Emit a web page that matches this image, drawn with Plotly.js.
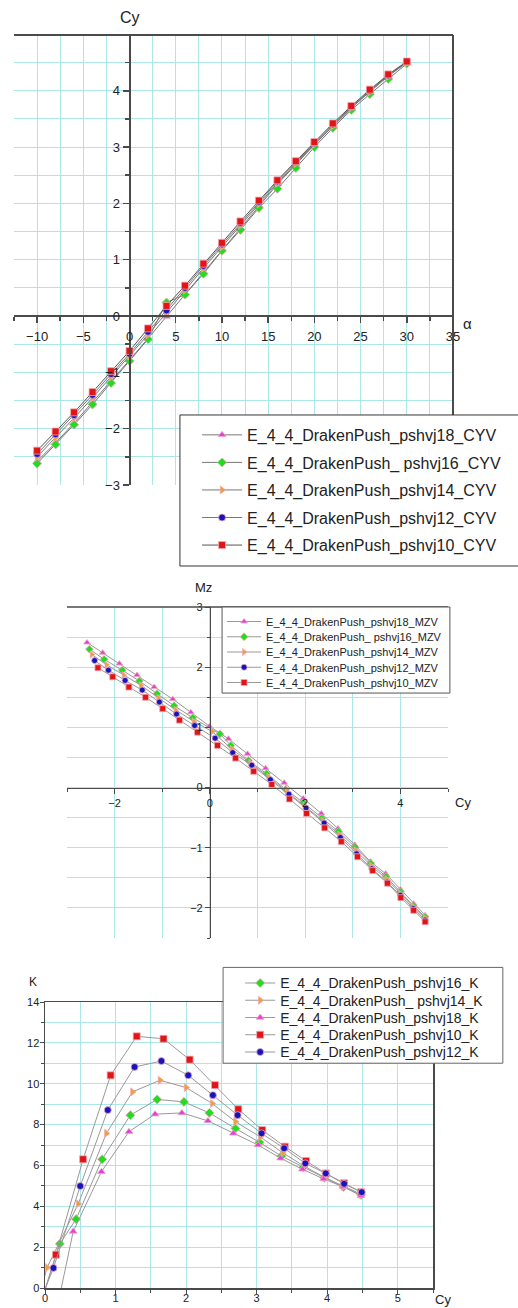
<!DOCTYPE html>
<html>
<head>
<meta charset="utf-8">
<script src="https://cdn.plot.ly/plotly-3.0.1.min.js"></script>
<style>
html,body{margin:0;padding:0;background:#fff;width:518px;height:1308px;overflow:hidden;}
.ch{position:absolute;left:0;width:518px;}
#c1{top:0;height:580px;}
#c2{top:580px;height:370px;}
#c3{top:950px;height:358px;}
</style>
</head>
<body>
<div id="c1" class="ch"></div>
<div id="c2" class="ch"></div>
<div id="c3" class="ch"></div>
<script>
// ---------- Chart 1: Cy vs alpha ----------
const alpha = [-10,-8,-6,-4,-2,0,2,4,6,8,10,12,14,16,18,20,22,24,26,28,30];
const cyv18 = [-2.58,-2.25,-1.90,-1.53,-1.17,-0.78,-0.40,-0.01,0.39,0.79,1.17,1.56,1.96,2.34,2.69,3.04,3.37,3.69,4.00,4.28,4.50];
const cyv16 = [-2.62,-2.28,-1.93,-1.57,-1.19,-0.80,-0.41,0.24,0.38,0.75,1.16,1.53,1.92,2.26,2.63,3.00,3.34,3.66,3.94,4.21,4.48];
const cyv14 = [-2.50,-2.16,-1.81,-1.45,-1.08,-0.71,-0.33,0.06,0.46,0.85,1.23,1.61,1.99,2.36,2.71,3.05,3.38,3.70,3.98,4.26,4.50];
const cyv12 = [-2.45,-2.10,-1.76,-1.40,-1.03,-0.67,-0.28,0.10,0.50,0.89,1.27,1.65,2.02,2.39,2.73,3.07,3.40,3.71,4.00,4.27,4.51];
const cyv10 = [-2.39,-2.05,-1.71,-1.35,-0.98,-0.62,-0.22,0.18,0.54,0.93,1.30,1.68,2.05,2.41,2.75,3.09,3.42,3.73,4.02,4.29,4.52];
const cyvNames = ["E_4_4_DrakenPush_pshvj18_CYV","E_4_4_DrakenPush_ pshvj16_CYV","E_4_4_DrakenPush_pshvj14_CYV","E_4_4_DrakenPush_pshvj12_CYV","E_4_4_DrakenPush_pshvj10_CYV"];

// ---------- Chart 2: Mz vs Cy ----------
const mzCy18 = [-2.58,-2.25,-1.90,-1.53,-1.17,-0.78,-0.40,-0.01,0.39,0.79,1.17,1.56,1.96,2.34,2.69,3.04,3.37,3.69,4.00,4.28,4.52];
const mz18   = [2.41,2.24,2.06,1.87,1.67,1.47,1.25,1.02,0.81,0.56,0.32,0.08,-0.18,-0.43,-0.68,-0.95,-1.23,-1.43,-1.69,-1.93,-2.12];
const mzCy16 = [-2.53,-2.22,-1.84,-1.48,-1.11,-0.75,-0.36,0.21,0.44,0.81,1.19,1.59,1.96,2.35,2.70,3.05,3.38,3.70,4.00,4.27,4.52];
const mz16   = [2.30,2.13,1.95,1.77,1.56,1.36,1.16,0.89,0.70,0.45,0.23,-0.03,-0.25,-0.51,-0.73,-0.99,-1.26,-1.48,-1.73,-1.96,-2.15];
const mzCy14 = [-2.48,-2.17,-1.81,-1.45,-1.08,-0.72,-0.34,0.05,0.46,0.85,1.23,1.62,1.99,2.37,2.72,3.06,3.39,3.71,4.00,4.27,4.52];
const mz14   = [2.21,2.04,1.87,1.70,1.49,1.29,1.10,0.93,0.64,0.41,0.18,-0.07,-0.30,-0.55,-0.78,-1.04,-1.30,-1.52,-1.76,-1.98,-2.17];
const mzCy12 = [-2.42,-2.13,-1.78,-1.42,-1.06,-0.70,-0.32,0.11,0.48,0.88,1.27,1.66,2.02,2.40,2.74,3.08,3.40,3.72,4.00,4.27,4.52];
const mz12   = [2.11,1.95,1.78,1.62,1.42,1.22,1.03,0.82,0.58,0.37,0.13,-0.11,-0.34,-0.59,-0.83,-1.10,-1.35,-1.57,-1.79,-2.01,-2.20];
const mzCy10 = [-2.35,-2.04,-1.70,-1.35,-0.99,-0.64,-0.26,0.16,0.54,0.92,1.30,1.67,2.03,2.41,2.76,3.10,3.42,3.73,4.01,4.28,4.52];
const mz10   = [1.99,1.84,1.67,1.50,1.31,1.12,0.92,0.70,0.49,0.27,0.05,-0.19,-0.43,-0.67,-0.90,-1.15,-1.38,-1.59,-1.83,-2.04,-2.23];
const mzvNames = ["E_4_4_DrakenPush_pshvj18_MZV","E_4_4_DrakenPush_ pshvj16_MZV","E_4_4_DrakenPush_pshvj14_MZV","E_4_4_DrakenPush_pshvj12_MZV","E_4_4_DrakenPush_pshvj10_MZV"];

// ---------- Chart 3: K vs Cy ----------
const kCy16 = [-0.36,0.21,0.44,0.81,1.21,1.59,1.97,2.33,2.70,3.04,3.35,3.66,3.96,4.23,4.48];
const k16   = [-4.0,2.16,3.37,6.30,8.46,9.23,9.11,8.57,7.81,7.13,6.46,5.91,5.40,4.95,4.56];
const kCy14 = [-0.34,0.03,0.47,0.87,1.24,1.63,2.00,2.37,2.70,3.05,3.37,3.67,3.96,4.23,4.48];
const k14   = [-3.5,1.00,4.12,7.57,9.60,10.17,9.81,9.03,8.14,7.40,6.62,5.97,5.42,4.97,4.59];
const kCy18 = [0.17,0.40,0.80,1.19,1.56,1.94,2.31,2.67,3.02,3.34,3.65,3.95,4.23,4.48];
const k18   = [-1.0,2.77,5.69,7.65,8.51,8.57,8.18,7.57,7.00,6.35,5.81,5.34,4.95,4.51];
const kCy10 = [-0.22,0.155,0.54,0.93,1.30,1.68,2.05,2.41,2.74,3.08,3.40,3.70,3.98,4.24,4.48];
const k10   = [-2.5,1.63,6.30,10.41,12.32,12.20,11.18,9.93,8.75,7.73,6.92,6.22,5.61,5.13,4.69];
const kCy12 = [-0.30,0.12,0.50,0.89,1.27,1.65,2.03,2.38,2.73,3.07,3.39,3.69,3.98,4.24,4.49];
const k12   = [-2.6,0.98,4.99,8.71,10.82,11.11,10.41,9.44,8.46,7.57,6.84,6.10,5.61,5.10,4.69];
const kNames = ["E_4_4_DrakenPush_pshvj16_K","E_4_4_DrakenPush_ pshvj14_K","E_4_4_DrakenPush_pshvj18_K","E_4_4_DrakenPush_pshvj10_K","E_4_4_DrakenPush_pshvj12_K"];

// ---------- styles ----------
const FONT = "Liberation Sans, Arial, sans-serif";
const GRID = "rgb(172,231,231)";
const AX = "#4a4a4a";
const sty = {
  p18: {color:"#e040e0", symbol:"triangle-up"},
  p16: {color:"#20dd20", symbol:"diamond"},
  p14: {color:"#f0a030", symbol:"triangle-right"},
  p12: {color:"#1515c0", symbol:"circle"},
  p10: {color:"#e01515", symbol:"square"}
};
function tr(x, y, name, s, size, lineColor, grp){
  return {x:x, y:y, name:name, type:"scatter", mode:"lines+markers", legendgroup:grp,
    line:{color:lineColor, width:1},
    marker:{color:s.color, symbol:s.symbol, size:size, line:{color:"#f3a8b8", width:0.8}}};
}
function boxShape(x0, x1, y0, y1, col){
  return {type:"rect", xref:"paper", yref:"paper", x0:x0, x1:x1, y0:y0, y1:y1,
    layer:"above", fillcolor:"#fff", line:{color:col, width:1}};
}
// re-space legend rows to a given pitch (px)
function spaceLegend(id, step){
  const gd = document.getElementById(id);
  const items = gd.querySelectorAll("g.legend g.traces");
  let y0 = null;
  items.forEach(function(g, i){
    const m = /translate\(\s*([-\d.e]+)[ ,]+([-\d.e]+)\s*\)/.exec(g.getAttribute("transform") || "");
    if(!m) return;
    if(y0 === null) y0 = parseFloat(m[2]);
    g.setAttribute("transform", "translate(" + m[1] + "," + (y0 + i*step) + ")");
  });
}
const cfg = {staticPlot:true, displayModeBar:false};

// Chart 1
const t1 = [
  tr(alpha, cyv18, cyvNames[0], sty.p18, 7, "#777", "a"),
  tr(alpha, cyv16, cyvNames[1], sty.p16, 7, "#777", "b"),
  tr(alpha, cyv14, cyvNames[2], sty.p14, 7, "#777", "c"),
  tr(alpha, cyv12, cyvNames[3], sty.p12, 7, "#777", "d"),
  tr(alpha, cyv10, cyvNames[4], sty.p10, 7, "#555", "e")
];
const x1r = [-12.5, 35], y1r = [-3, 4.99];
const l1 = {
  width:518, height:580, margin:{l:14, r:65, t:35, b:95},
  paper_bgcolor:"rgba(0,0,0,0)", plot_bgcolor:"#fff",
  font:{family:FONT, color:"#222"},
  showlegend:true,
  xaxis:{range:x1r, anchor:"free", position:(0 - y1r[0])/(y1r[1]-y1r[0]),
    showline:true, linecolor:AX, linewidth:2, zeroline:false,
    tick0:0, dtick:5, ticks:"outside", ticklen:6, tickcolor:AX, tickwidth:1.5,
    showgrid:true, gridcolor:GRID, gridwidth:1,
    minor:{dtick:2.5, showgrid:true, gridcolor:GRID, ticks:"outside", ticklen:4, tickcolor:AX},
    tickfont:{size:13}, ticklabelstandoff:2},
  yaxis:{range:y1r, anchor:"free", position:(0 - x1r[0])/(x1r[1]-x1r[0]),
    showline:true, linecolor:AX, linewidth:2, zeroline:false,
    tick0:0, dtick:1, ticks:"outside", ticklen:6, tickcolor:AX, tickwidth:1.5,
    showgrid:true, gridcolor:GRID, gridwidth:1,
    minor:{dtick:0.5, showgrid:true, gridcolor:GRID, ticks:"outside", ticklen:4, tickcolor:AX},
    tickfont:{size:13}},
  shapes:[
    {type:"line", xref:"paper", yref:"paper", x0:0, x1:1, y0:1, y1:1, line:{color:AX, width:2}},
    {type:"line", xref:"paper", yref:"paper", x0:1, x1:1, y0:0, y1:1, line:{color:AX, width:2}},
    boxShape(0.378, 1.16, -0.18, 0.1556, "#333")
  ],
  annotations:[
    {text:"Cy", xref:"paper", yref:"paper", x:(0 - x1r[0])/(x1r[1]-x1r[0]), y:1.038, showarrow:false, font:{size:16}, xanchor:"center", yanchor:"middle"},
    {text:"α", xref:"paper", yref:"paper", x:1.034, y:0.36, showarrow:false, font:{size:15}, xanchor:"center", yanchor:"middle"}
  ],
  legend:{x:0.417, y:0.149, xanchor:"left", yanchor:"top", bgcolor:"rgba(0,0,0,0)",
    borderwidth:0, font:{size:16, color:"#222"}, itemwidth:40, tracegroupgap:3.75}
};
Plotly.newPlot("c1", t1, l1, cfg);

// Chart 2
const t2 = [
  tr(mzCy18, mz18, mzvNames[0], sty.p18, 6, "#999"),
  tr(mzCy16, mz16, mzvNames[1], sty.p16, 6, "#999"),
  tr(mzCy14, mz14, mzvNames[2], sty.p14, 6, "#999"),
  tr(mzCy12, mz12, mzvNames[3], sty.p12, 6, "#999"),
  tr(mzCy10, mz10, mzvNames[4], sty.p10, 6, "#999")
];
const x2r = [-3, 5], y2r = [-2.5, 3];
const l2 = {
  width:518, height:370, margin:{l:67, r:70, t:27, b:12},
  paper_bgcolor:"rgba(0,0,0,0)", plot_bgcolor:"#fff",
  font:{family:FONT, color:"#222"},
  showlegend:true,
  xaxis:{range:x2r, anchor:"free", position:(0 - y2r[0])/(y2r[1]-y2r[0]),
    showline:true, linecolor:AX, linewidth:1.5, zeroline:false,
    tick0:0, dtick:2, ticks:"outside", ticklen:5, tickcolor:AX,
    showgrid:true, gridcolor:GRID,
    minor:{dtick:1, showgrid:true, gridcolor:GRID, ticks:"outside", ticklen:3, tickcolor:AX},
    tickfont:{size:11}},
  yaxis:{range:y2r, anchor:"free", position:(0 - x2r[0])/(x2r[1]-x2r[0]),
    showline:true, linecolor:AX, linewidth:1.5, zeroline:false,
    tick0:0, dtick:1, ticks:"outside", ticklen:5, tickcolor:AX,
    showgrid:true, gridcolor:GRID,
    minor:{dtick:0.5, showgrid:true, gridcolor:GRID, ticks:"outside", ticklen:3, tickcolor:AX},
    tickfont:{size:11}},
  shapes:[
    {type:"line", xref:"paper", yref:"paper", x0:0, x1:1, y0:1, y1:1, line:{color:AX, width:1.5}},
    boxShape(0.407, 1.005, 0.74, 1.0, "#555")
  ],
  annotations:[
    {text:"Mz", xref:"paper", yref:"paper", x:0.357, y:1.06, showarrow:false, font:{size:13}, xanchor:"center", yanchor:"middle"},
    {text:"Cy", xref:"paper", yref:"paper", x:1.039, y:0.408, showarrow:false, font:{size:13}, xanchor:"center", yanchor:"middle"}
  ],
  legend:{x:0.407, y:1.0, xanchor:"left", yanchor:"top", bgcolor:"rgba(0,0,0,0)",
    borderwidth:0, font:{size:11, color:"#222"}, itemwidth:34}
};
Plotly.newPlot("c2", t2, l2, cfg).then(function(){ spaceLegend("c2", 15.25); });

// Chart 3
const t3 = [
  tr(kCy16, k16, kNames[0], sty.p16, 7, "#999"),
  tr(kCy14, k14, kNames[1], sty.p14, 7, "#999"),
  tr(kCy18, k18, kNames[2], sty.p18, 7, "#999"),
  tr(kCy10, k10, kNames[3], sty.p10, 7, "#999"),
  tr(kCy12, k12, kNames[4], sty.p12, 7, "#999")
];
const l3 = {
  width:518, height:358, margin:{l:45, r:85, t:52, b:20},
  paper_bgcolor:"rgba(0,0,0,0)", plot_bgcolor:"#fff",
  font:{family:FONT, color:"#222"},
  showlegend:true,
  xaxis:{range:[0, 5.5], showline:true, mirror:true, linecolor:AX, linewidth:1.5, zeroline:false,
    tick0:0, dtick:1, ticks:"outside", ticklen:4, tickcolor:AX,
    showgrid:true, gridcolor:GRID,
    minor:{dtick:0.5, showgrid:true, gridcolor:GRID, ticks:"outside", ticklen:3, tickcolor:AX},
    tickfont:{size:11}, ticklabelstandoff:-5},
  yaxis:{range:[0, 14], showline:true, mirror:true, linecolor:AX, linewidth:1.5, zeroline:false,
    tick0:0, dtick:2, ticks:"outside", ticklen:4, tickcolor:AX,
    showgrid:true, gridcolor:GRID,
    minor:{dtick:1, showgrid:true, gridcolor:GRID, ticks:"outside", ticklen:3, tickcolor:AX},
    tickfont:{size:11}, ticklabelstandoff:-2},
  shapes:[
    boxShape(0.459, 1.180, 0.786, 1.121, "#666")
  ],
  annotations:[
    {text:"K", xref:"paper", yref:"paper", x:-0.031, y:1.069, showarrow:false, font:{size:12}, xanchor:"center", yanchor:"middle"},
    {text:"Cy", xref:"paper", yref:"paper", x:1.026, y:-0.041, showarrow:false, font:{size:13}, xanchor:"center", yanchor:"middle"}
  ],
  legend:{x:0.503, y:1.121, xanchor:"left", yanchor:"top", bgcolor:"rgba(0,0,0,0)",
    borderwidth:0, font:{size:14, color:"#222"}, itemwidth:30}
};
Plotly.newPlot("c3", t3, l3, cfg).then(function(){ spaceLegend("c3", 17.25); });
</script>
</body>
</html>
